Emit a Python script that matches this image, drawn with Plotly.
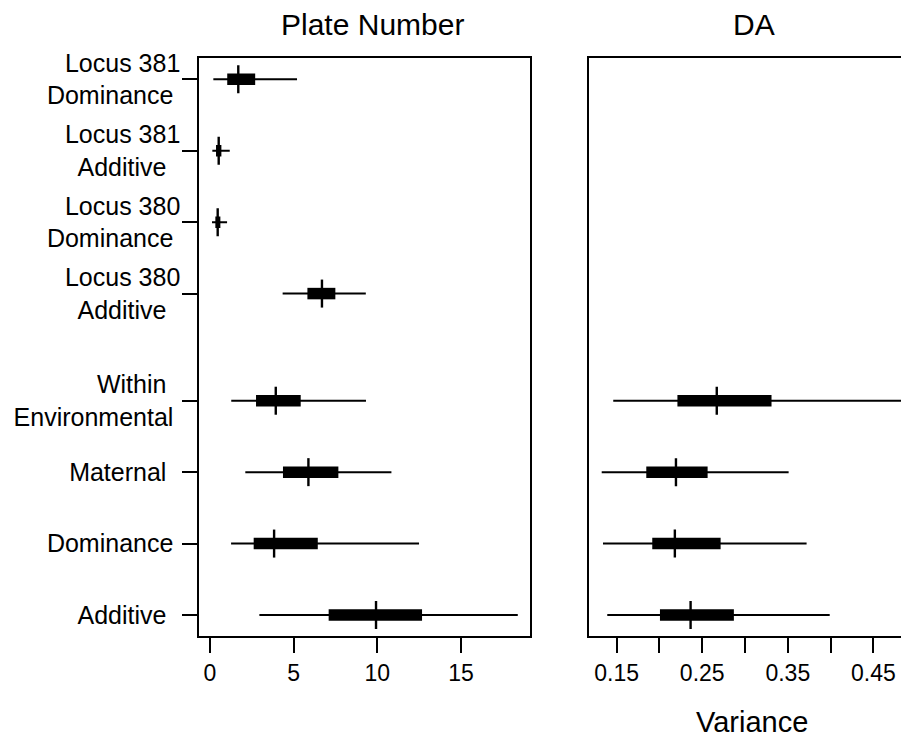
import plotly.graph_objects as go

# ---- data ----
categories = ["Additive\u00a0\u00a0", "Dominance\u00a0", "Maternal\u00a0\u00a0",
              "Within\u00a0\u00a0<br>Environmental\u00a0",
              "Locus 380<br>Additive\u00a0\u00a0", "Locus 380<br>Dominance\u00a0",
              "Locus 381<br>Additive\u00a0\u00a0", "Locus 381<br>Dominance\u00a0"]
y_pos = [1, 2, 3, 4, 5.5, 6.5, 7.5, 8.5]

# Plate Number panel
pn_low = [2.95, 1.26, 2.11, 1.27, 4.34, 0.12, 0.14, 0.20]
pn_q1 = [7.09, 2.61, 4.36, 2.75, 5.82, 0.32, 0.36, 1.03]
pn_med = [9.92, 3.83, 5.88, 3.93, 6.69, 0.46, 0.52, 1.69]
pn_q3 = [12.67, 6.44, 7.67, 5.42, 7.49, 0.62, 0.68, 2.70]
pn_high = [18.39, 12.49, 10.84, 9.32, 9.31, 1.02, 1.18, 5.20]

# DA panel (first four components only)
da_low = [0.139, 0.134, 0.1325, 0.146]
da_q1 = [0.2006, 0.1916, 0.1846, 0.221]
da_med = [0.2364, 0.218, 0.2193, 0.267]
da_q3 = [0.287, 0.2715, 0.2563, 0.331]
da_high = [0.399, 0.372, 0.351, 0.49]

pn_ticks = [0, 5, 10, 15]
da_ticks = [0.15, 0.20, 0.25, 0.30, 0.35, 0.40, 0.45]
da_ticklabels = ["0.15", "", "0.25", "", "0.35", "", "0.45"]

MED_HALF = 0.196
FONT = "Liberation Sans, Arial, Helvetica, sans-serif"

fig = go.Figure()


def add_panel(lo, q1, med, q3, hi, ys, xa, ya):
    wx, wy, bx, by, mx, my = [], [], [], [], [], []
    for a, b, c, d, e, y in zip(lo, q1, med, q3, hi, ys):
        wx += [a, e, None]
        wy += [y, y, None]
        bx += [b, d, None]
        by += [y, y, None]
        mx += [c, c, None]
        my += [y - MED_HALF, y + MED_HALF, None]
    common = dict(mode="lines", showlegend=False, hoverinfo="skip", xaxis=xa, yaxis=ya)
    fig.add_trace(go.Scatter(x=wx, y=wy, line=dict(color="black", width=2), **common))
    fig.add_trace(go.Scatter(x=bx, y=by, line=dict(color="black", width=11.5), **common))
    fig.add_trace(go.Scatter(x=mx, y=my, line=dict(color="black", width=2.4), **common))


add_panel(pn_low, pn_q1, pn_med, pn_q3, pn_high, y_pos, "x", "y")
n = len(da_low)
add_panel(da_low, da_q1, da_med, da_q3, da_high, y_pos[:n], "x2", "y2")

# page body adds an 8px offset; figure is sized to the remaining window
OFF = 8
W, H = 909 - OFF, 741 - OFF
def px(v):
    return (v - OFF) / W
def py(v):
    return 1 - (v - OFF) / H

yrange = [0.706, 8.794]
axis_common = dict(showgrid=False, zeroline=False, showline=True, linecolor="black",
                   linewidth=2, automargin=False)

fig.update_layout(
    width=W, height=H,
    margin=dict(l=0, r=0, t=0, b=0),
    paper_bgcolor="white", plot_bgcolor="white",
    font=dict(family=FONT, color="black"),
    xaxis=dict(domain=[px(199.3), px(530)], range=[-0.639, 19.12], tickvals=pn_ticks,
               ticks="outside", ticklen=15, tickwidth=2, tickcolor="black", mirror=True,
               tickfont=dict(size=23), anchor="y", **axis_common),
    yaxis=dict(domain=[py(636), py(58.3)], range=yrange, tickvals=y_pos, ticktext=categories,
               ticks="outside", ticklen=15, tickwidth=2, tickcolor="black", mirror=True,
               tickfont=dict(size=25), ticklabelstandoff=-3, anchor="x", **axis_common),
    xaxis2=dict(domain=[px(589.3), 1.0], range=[0.118, 0.4917], tickvals=da_ticks,
                ticktext=da_ticklabels, ticks="outside", ticklen=15, tickwidth=2,
                tickcolor="black", mirror=True, tickfont=dict(size=23), anchor="y2",
                **axis_common),
    yaxis2=dict(domain=[py(636), py(58.3)], range=yrange, showticklabels=False, ticks="",
                mirror=False, anchor="x2", **axis_common),
    annotations=[
        dict(text="Plate Number", x=px(372.5), y=py(25), xref="paper", yref="paper",
             showarrow=False, font=dict(size=30), xanchor="center", yanchor="middle"),
        dict(text="DA", x=px(754), y=py(25), xref="paper", yref="paper",
             showarrow=False, font=dict(size=30), xanchor="center", yanchor="middle"),
        dict(text="Variance", x=px(752), y=py(722), xref="paper", yref="paper",
             showarrow=False, font=dict(size=29), xanchor="center", yanchor="middle"),
    ],
)

fig.write_html("out.html")
